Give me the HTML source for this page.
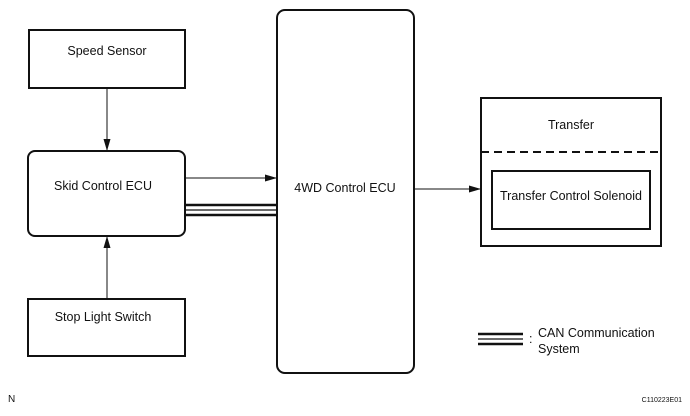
<!DOCTYPE html>
<html><head><style>
html,body{margin:0;padding:0;background:#fff;}
svg text{font-family:"Liberation Sans",Arial,sans-serif;fill:#111;}
</style></head><body>
<svg width="690" height="411" viewBox="0 0 690 411" xmlns="http://www.w3.org/2000/svg">
<defs><marker id="a" markerWidth="12" markerHeight="7" refX="12" refY="3.5" orient="auto" markerUnits="userSpaceOnUse"><path d="M0,0 L12,3.5 L0,7 z" fill="#111"/></marker></defs>
<g fill="none" stroke="#111" stroke-width="2">
<rect x="29" y="30" width="156" height="58"/>
<rect x="28" y="151" width="157" height="85" rx="7"/>
<rect x="28" y="299" width="157" height="57"/>
<rect x="277" y="10" width="137" height="363" rx="8"/>
<rect x="481" y="98" width="180" height="148"/>
<line x1="481" y1="152" x2="661" y2="152" stroke-width="2" stroke-dasharray="8,5"/>
<rect x="492" y="171" width="158" height="58"/>
<line x1="107" y1="88" x2="107" y2="151" stroke-width="1" marker-end="url(#a)"/>
<line x1="107" y1="299" x2="107" y2="236" stroke-width="1" marker-end="url(#a)"/>
<line x1="185" y1="178" x2="277" y2="178" stroke-width="1" marker-end="url(#a)"/>
<line x1="414" y1="189" x2="481" y2="189" stroke-width="1" marker-end="url(#a)"/>
<line x1="185" y1="205" x2="277" y2="205" stroke-width="2.5"/>
<line x1="185" y1="210" x2="277" y2="210" stroke-width="1.2"/>
<line x1="185" y1="215" x2="277" y2="215" stroke-width="2.5"/>
<line x1="478" y1="334" x2="523" y2="334" stroke-width="2.5"/>
<line x1="478" y1="339" x2="523" y2="339" stroke-width="1.2"/>
<line x1="478" y1="344" x2="523" y2="344" stroke-width="2.5"/>
</g>
<g font-size="12.5">
<text x="107" y="55" text-anchor="middle">Speed Sensor</text>
<text x="103" y="190" text-anchor="middle">Skid Control ECU</text>
<text x="103" y="321" text-anchor="middle">Stop Light Switch</text>
<text x="345" y="192" text-anchor="middle">4WD Control ECU</text>
<text x="571" y="129" text-anchor="middle">Transfer</text>
<text x="571" y="200" text-anchor="middle">Transfer Control Solenoid</text>
<text x="529" y="343">:</text>
<text x="538" y="337">CAN Communication</text>
<text x="538" y="353">System</text>
<text x="8" y="402" font-size="10">N</text>
<text x="682" y="402" font-size="7" text-anchor="end">C110223E01</text>
</g>
</svg>
</body></html>
